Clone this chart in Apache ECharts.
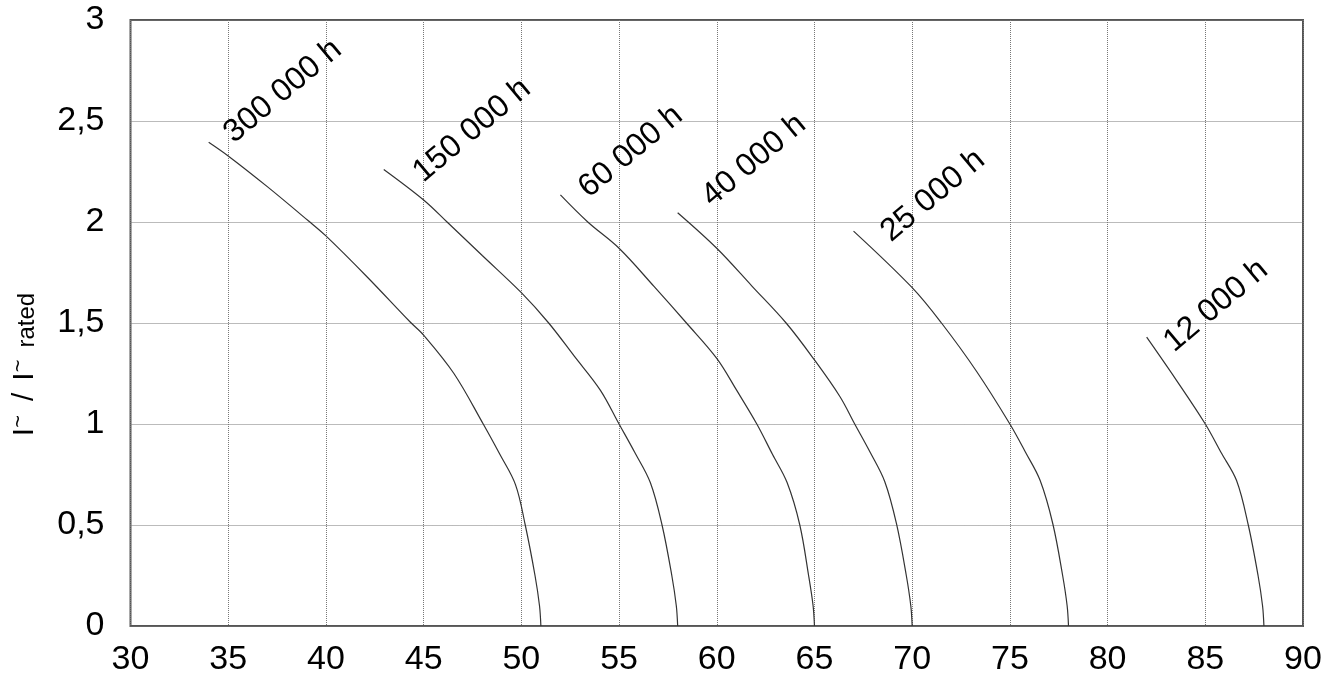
<!DOCTYPE html>
<html><head><meta charset="utf-8">
<script src="https://cdn.jsdelivr.net/npm/echarts@6/dist/echarts.min.js"></script>
<style>html,body{margin:0;padding:0;background:#fff}#c{width:1333px;height:682px}</style>
</head><body><div id="c"></div>
<script>
// ---- data ----
const xTicks = [30, 35, 40, 45, 50, 55, 60, 65, 70, 75, 80, 85, 90];
const yTicks = [0, 0.5, 1, 1.5, 2, 2.5, 3];
const curveNames = ['300 000 h', '150 000 h', '60 000 h', '40 000 h', '25 000 h', '12 000 h'];
const h300000 = [[34.0,2.395],[35.0,2.327],[37.0,2.175],[39.1,2.006],[40.0,1.931],[42.1,1.729],[44.3,1.506],[45.0,1.44],[46.55,1.25],[48.05,1.0],[48.9,0.85],[49.7,0.70],[50.2,0.5],[50.7,0.25],[50.93,0.1],[51.0,0]];
const h150000 = [[42.96,2.26],[45.0,2.109],[46.2,2.0],[48.0,1.834],[50.0,1.65],[51.4,1.5],[52.7,1.337],[54.04,1.168],[55.0,1.0],[55.8,0.86],[56.6,0.71],[57.2,0.5],[57.7,0.25],[57.93,0.1],[58.0,0]];
const h60000 = [[52.0,2.134],[53.4,2.0],[55.0,1.87],[56.8,1.68],[58.45,1.5],[60.0,1.325],[61.0,1.17],[62.05,1.0],[62.85,0.85],[63.6,0.71],[64.25,0.5],[64.7,0.25],[64.93,0.1],[65.0,0]];
const h40000 = [[58.0,2.046],[60.0,1.87],[61.8,1.683],[63.55,1.5],[65.0,1.317],[66.3,1.136],[67.06,1.0],[67.85,0.86],[68.6,0.714],[69.2,0.505],[69.7,0.25],[69.93,0.1],[70.0,0]];
const h25000 = [[67.0,1.955],[70.0,1.675],[71.5,1.5],[73.3,1.26],[75.0,1.0],[75.8,0.86],[76.55,0.72],[77.2,0.505],[77.7,0.25],[77.93,0.1],[78.0,0]];
const h12000 = [[82.0,1.43],[83.5,1.22],[85.0,1.0],[85.8,0.86],[86.6,0.72],[87.2,0.5],[87.7,0.25],[87.93,0.1],[88.0,0]];
const curves = [h300000, h150000, h60000, h40000, h25000, h12000];

// ---- styling ----
const FONT = '"Liberation Sans", Arial, Helvetica, sans-serif';
const labelOffsets = [[30,7],[44,19],[33,9],[39,0],[42,17],[32,21]];
const fmt = v => String(v).replace('.', ',');

const chart = echarts.init(document.getElementById('c'));
const option = {
  animation: false,
  backgroundColor: '#fff',
  grid: { left: 130, right: 30, top: 20, bottom: 56, show: true, borderColor: '#555', borderWidth: 2, backgroundColor: 'transparent' },
  xAxis: {
    type: 'value', min: xTicks[0], max: xTicks[xTicks.length-1], interval: xTicks[1]-xTicks[0],
    axisLine: { show: false }, axisTick: { show: false },
    axisLabel: { fontSize: 34, color: '#000', fontFamily: FONT, margin: 17, formatter: fmt },
    splitLine: { show: true, lineStyle: { color: '#777', width: 1, type: [1, 1] } }
  },
  yAxis: {
    type: 'value', min: yTicks[0], max: yTicks[yTicks.length-1], interval: yTicks[1]-yTicks[0],
    axisLine: { show: false }, axisTick: { show: false },
    axisLabel: { fontSize: 34, color: '#000', fontFamily: FONT, margin: 26, formatter: fmt },
    splitLine: { show: true, lineStyle: { color: '#777', width: 1, type: [1, 1] } },
    name: '{a|I}{s|~}{sl|/}{a|I}{s|~}{r|rated}',
    nameLocation: 'middle', nameRotate: 90, nameGap: 89,
    nameTextStyle: {
      color: '#000', fontFamily: FONT, padding: [0, 83, 0, 0],
      rich: {
        a: { fontSize: 30, lineHeight: 34, fontFamily: FONT, color: '#000', verticalAlign: 'middle' },
        s: { fontSize: 22, lineHeight: 22, fontFamily: FONT, color: '#000', verticalAlign: 'middle', padding: [0, 0, 11, 0] },
        sl: { fontSize: 30, lineHeight: 34, fontFamily: FONT, color: '#000', verticalAlign: 'middle', padding: [0, 12, 0, 14] },
        r: { fontSize: 24, lineHeight: 26, fontFamily: FONT, color: '#000', verticalAlign: 'middle', padding: [6, 0, 0, 12] }
      }
    }
  },
  series: curves.map((pts, i) => ({
    name: curveNames[i], type: 'line', data: pts, showSymbol: false, symbol: 'none',
    smooth: 0.35,
    lineStyle: { color: '#333', width: 1.2 }, silent: true
  }))
};
chart.setOption(option);

const graphics = curves.map((pts, i) => {
  const p = chart.convertToPixel({ gridIndex: 0 }, pts[0]);
  return {
    type: 'text', x: p[0] + labelOffsets[i][0], y: p[1] + labelOffsets[i][1],
    rotation: 40 * Math.PI / 180, silent: true, z: 10,
    style: { text: curveNames[i], font: '32px ' + FONT, fill: '#000', textAlign: 'left', textVerticalAlign: 'bottom', align: 'left', verticalAlign: 'bottom' }
  };
});
chart.setOption({ graphic: graphics });
</script></body></html>
